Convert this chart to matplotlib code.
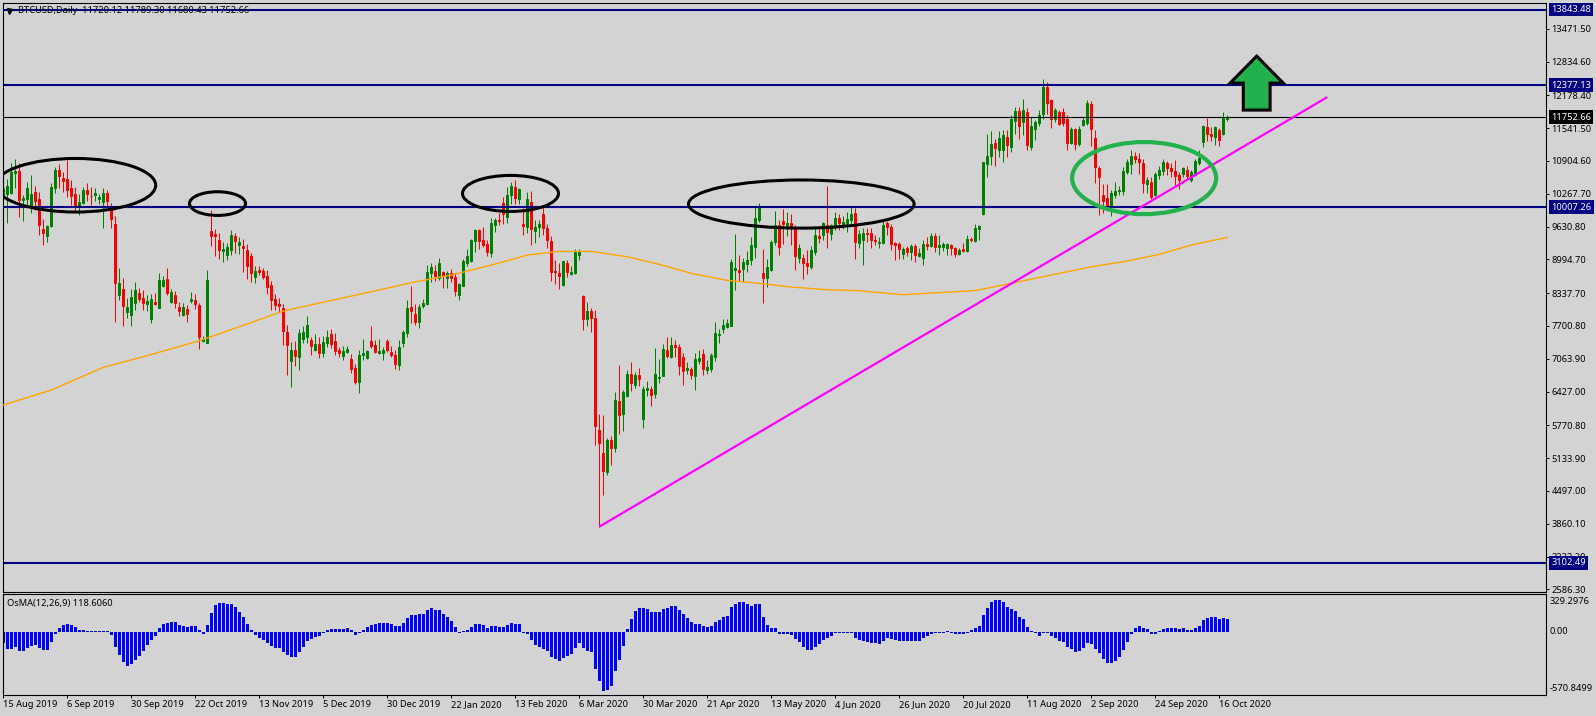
import matplotlib
matplotlib.use("Agg")
import matplotlib.pyplot as plt
from matplotlib.patches import Ellipse, Polygon

plt.rcParams['font.family'] = ['Noto Sans', 'DejaVu Sans']

opens = [10240,10260,10290,10680,10710,10150,10160,10030,10300,10160,
9580,9450,9640,10380,10730,10570,10550,10380,10260,10030,
10090,10340,10230,10240,10160,10110,10280,10010,9680,8300,
8420,7970,7910,8150,8340,8240,8130,7830,8160,8050,
8480,8610,8160,8300,8070,7910,8030,8180,8200,8110,
7410,7370,9540,9480,9370,9150,9080,9170,9450,9270,
9250,9170,9060,8650,8790,8770,8670,8500,8220,8130,
8050,7580,7020,7230,7100,7450,7490,7430,7230,7350,
7170,7360,7540,7410,7230,7120,7190,7060,6880,6610,
7140,7080,7410,7330,7170,7170,7410,7190,7140,6940,
7370,7560,8070,7930,7780,8090,8130,8730,8770,8630,
8750,8630,8730,8650,8300,8480,8920,8960,9350,9560,
9370,9290,9120,9660,9760,10090,9820,10240,10400,10170,
9680,9620,10110,9540,9620,9870,9600,9350,8770,8730,
8500,8920,8710,8730,9080,8280,7840,7990,7850,5680,
5230,4860,5490,5330,6240,5990,6340,6770,6550,6750,
5890,6460,6480,6380,6690,6730,7230,7100,7330,7290,
7100,6850,6860,6730,7020,7160,6850,6860,7100,7530,
7640,7680,7700,8790,8790,8810,8900,8980,9230,9760,
8730,8630,8790,9330,9660,9740,9660,9700,9620,9020,
9020,8920,8850,9140,9450,9470,9660,9490,9620,9800,
9680,9700,9760,9890,9310,9370,9510,9510,9370,9320,
9310,9700,9620,9310,9290,9100,9210,9140,9250,9060,
9020,9290,9250,9450,9230,9230,9210,9270,9210,9100,
9200,9160,9390,9350,9580,9870,10850,11000,11250,11120,
11120,11370,11170,11680,11870,11660,11850,11180,11520,11640,
11820,12340,12090,11720,11850,11850,11720,11250,11520,11230,
11600,11640,12010,11350,10770,10240,10180,10030,10240,10320,
10320,10690,10850,11000,10940,10860,10460,10500,10240,10630,
10710,10860,10770,10710,10630,10650,10730,10530,10630,10860,
11270,11560,11430,11370,11500,11430,11720.12]

highs = [10440,10550,10860,10950,10860,10240,10490,10630,10420,10310,
9770,9660,10470,10780,10840,10690,10930,10530,10390,10270,
10390,10480,10400,10370,10270,10370,10340,10080,9830,8820,
8640,8240,8410,8550,8430,8400,8300,8330,8350,8720,
8670,8820,8410,8380,8170,8140,8110,8360,8330,8140,
7500,8790,9950,9590,9500,9340,9320,9560,9500,9430,
9380,9300,9120,8860,8860,8820,8790,8570,8330,8240,
8130,7720,7390,7410,7650,7690,7890,7480,7540,7490,
7500,7620,7650,7560,7300,7310,7310,7150,6960,7230,
7450,7230,7700,7430,7450,7300,7450,7310,7230,7430,
7620,8200,8480,8130,8130,8220,8880,8920,8880,9020,
8770,8770,8810,8720,8540,9010,9190,9390,9580,9580,
9620,9370,9800,9800,9890,10200,10400,10500,10530,10380,
9990,10300,10320,9760,9760,10010,9680,9450,8980,8920,
8960,8980,8860,9190,9190,8300,8170,8050,8010,5990,
5970,5520,5560,6420,6940,6460,6850,7010,6810,6880,
6530,6630,6530,7270,7060,7350,7490,7490,7430,7350,
7170,7010,6910,7170,7230,7250,7040,7180,7780,7640,
7840,7840,9000,9490,9080,9020,9160,9430,10010,10090,
9190,9000,9370,9930,9760,9970,9910,9870,9660,9290,
9100,9170,9250,9640,9640,9720,10420,9690,9910,9870,
9830,9910,10010,9990,9560,9600,9600,9600,9470,9430,
9740,9740,9690,9340,9340,9230,9250,9300,9300,9210,
9370,9430,9500,9500,9470,9340,9320,9300,9240,9210,
9320,9470,9430,9690,9660,10880,11430,11490,11340,11490,
11500,11500,11800,11960,11960,12110,11940,11760,11700,11890,
12490,12440,12100,11930,11890,11930,11800,11570,11550,11580,
11750,12090,12070,11500,10810,10460,10460,10340,10500,10420,
10790,10950,11120,11070,11050,10940,10590,10590,10700,10810,
10950,10900,10860,10920,10700,10790,10810,10730,10950,11120,
11600,11740,11570,11580,11540,11860,11789.30]

lows = [9450,9700,10260,10370,9820,9740,10050,9900,9950,9470,
9280,9340,9630,10290,10370,10310,10210,10050,9920,9850,
10070,10130,10050,10130,10070,9610,10020,9610,7780,8200,
7700,7850,7700,8010,8160,8010,7990,7760,8110,8040,
8450,8300,8140,8050,7890,7890,7780,8140,8030,7250,
7380,7360,9250,9050,9010,8950,8980,9080,9110,9100,
8750,8620,8560,8540,8690,8620,8320,8010,8010,7980,
7330,6750,6520,6920,6840,7360,7360,7140,7210,7070,
7100,7300,7270,7140,7100,7040,7170,6780,6570,6400,
7040,7060,7270,7170,7150,7040,7190,7100,6860,6850,
7300,7490,7750,7720,7670,8040,8110,8560,8580,8590,
8440,8440,8550,8280,8200,8480,8860,8940,9140,9190,
9230,9060,9040,9520,9660,9680,9700,10070,10070,10070,
9470,9500,9270,9310,9430,9470,9210,8570,8510,8420,
8480,8650,8690,8710,8980,7620,7690,7580,5390,3800,
4420,4810,5000,5250,5600,5660,6330,6440,6490,6530,
5720,6340,6150,6300,6600,6730,7070,7070,7100,6750,
6550,6770,6670,6460,6970,6750,6770,6810,7020,7370,
7570,7660,7700,8400,8570,8550,8750,8880,9020,9720,
8150,8460,8770,9270,9080,9300,9450,9270,8790,8920,
8610,8710,8810,9080,9310,9370,9210,9370,9560,9560,
9590,9520,9660,9000,9210,8880,9340,9210,9270,9210,
9290,9470,9170,8980,9010,9010,9050,8980,8950,9030,
8880,9170,9240,9140,9080,9160,9080,9080,9030,9080,
9130,9140,9340,9340,9370,9850,10590,10830,10810,10990,
10890,10990,11080,11430,11330,11410,11120,11120,11320,11580,
11720,11820,11540,11660,11600,11580,11120,11230,11120,11190,
11580,11600,11190,10470,9850,9890,9950,9830,10180,10240,
10240,10660,10660,10860,10660,10290,10280,10160,10220,10560,
10630,10630,10600,10440,10360,10600,10550,10500,10620,10830,
11180,11290,11290,11210,11190,11400,11680.43]

closes = [10370,10420,10700,10710,10150,10180,10370,10270,10130,9660,
9500,9640,10400,10730,10610,10510,10340,10220,10030,10110,
10340,10260,10220,10280,10200,10280,10130,9780,8530,8530,
8090,8070,8260,8400,8220,8150,8180,8220,8130,8590,
8590,8340,8360,8150,7990,8070,7930,8220,8130,7490,
7450,8590,9450,9450,9170,9190,9230,9470,9350,9330,
9220,8860,8730,8770,8750,8650,8460,8200,8110,8090,
7600,7330,7230,7120,7560,7580,7720,7310,7350,7170,
7390,7490,7350,7210,7170,7210,7250,6860,6610,7140,
7170,7210,7310,7190,7210,7230,7230,7140,6960,7290,
7580,8050,7990,7780,8070,8150,8750,8840,8670,8920,
8670,8730,8630,8380,8510,8960,9060,9370,9560,9350,
9270,9140,9700,9760,9740,9880,10240,10420,10180,10360,
9640,10170,9580,9620,9680,9600,9370,8750,8750,8670,
8960,8750,8750,9140,9140,7840,7990,7850,5760,5430,
4880,5490,5330,6260,5970,6420,6770,6590,6750,6670,
6480,6500,6360,6770,6710,7250,7120,7330,7290,6920,
6830,6880,6750,7060,7080,6860,6900,7140,7560,7540,
7720,7760,8940,8830,8750,8940,8980,9270,9800,10030,
8630,8850,9330,9660,9230,9680,9700,9620,9060,9210,
8920,8860,9170,9470,9410,9700,9520,9660,9800,9700,
9720,9780,9870,9330,9490,9510,9490,9370,9360,9330,
9660,9620,9290,9270,9190,9190,9140,9250,9080,9120,
9290,9250,9450,9230,9270,9290,9290,9210,9100,9180,
9160,9390,9370,9600,9640,10880,11000,11230,11160,11350,
11410,11210,11720,11870,11580,11890,11210,11580,11660,11800,
12340,12030,11720,11890,11620,11640,11250,11520,11230,11520,
11700,12030,11520,10790,10590,10130,10030,10280,10320,10340,
10710,10880,11000,10940,10880,10480,10530,10200,10650,10730,
10880,10770,10710,10610,10530,10770,10610,10690,10900,10960,
11580,11430,11390,11560,11310,11760,11752.66]

osma = [-100,-151,-151,-139,-172,-172,-145,-127,-121,-145,
-163,-163,-91,-18,36,63,72,66,45,18,
18,9,6,6,6,6,6,-27,-136,-208,
-272,-308,-290,-254,-217,-172,-118,-72,-36,36,
72,82,91,91,63,54,45,54,54,18,
-18,63,172,245,263,263,254,254,226,181,
136,72,18,-27,-54,-72,-100,-127,-145,-145,
-181,-208,-226,-226,-181,-136,-82,-63,-45,-36,
-9,18,27,27,27,27,36,18,-27,-9,
18,45,63,72,82,82,82,72,54,54,
82,127,154,154,163,163,199,217,199,199,
163,136,100,45,-9,9,18,45,72,72,
63,36,54,54,45,45,63,82,72,72,
-9,-18,-72,-121,-136,-154,-172,-226,-245,-263,
-236,-217,-199,-145,-100,-145,-172,-181,-335,-444,
-535,-525,-489,-353,-254,-127,27,118,190,217,
217,208,181,181,181,208,217,236,236,199,
163,127,91,72,72,54,45,54,91,109,
136,145,226,254,272,272,254,236,254,254,
136,63,36,36,-18,-18,-18,-27,-63,-91,
-136,-163,-163,-136,-109,-72,-54,-36,-6,-6,
-6,-9,-9,-54,-72,-82,-91,-100,-100,-109,
-82,-54,-63,-72,-82,-82,-82,-82,-82,-82,
-54,-36,-18,-9,-9,-9,6,-6,-18,-18,
-18,-9,18,36,54,154,217,272,290,290,
272,226,208,190,136,118,45,6,-9,-36,
-9,-6,-36,-54,-82,-91,-136,-154,-181,-172,
-145,-100,-109,-154,-190,-245,-281,-281,-263,-226,
-163,-91,-18,36,54,36,27,-18,-18,9,
27,36,36,36,27,36,18,18,36,54,
109,127,136,136,118,127,118.6]

ma_bars = [0,12,25,35,49,59,70,79,89,102,112,122,131,139,147,156,164,172,181,189,197,206,214,225,243,253,264,272,281,289,297,306]
ma_values = [6165,6456,6897,7103,7413,7685,7990,8145,8314,8540,8689,8883,9077,9149,9149,9044,8897,8722,8586,8528,8456,8404,8384,8308,8388,8545,8722,8850,8961,9091,9271,9421]

trend_bars = [149, 331]
trend_prices = [3802, 12145]

navy_levels = [13843.48, 12377.13, 10007.26, 3102.49]
navy_labels = ["13843.48", "12377.13", "10007.26", "3102.49"]
last_price = 11752.66

price_ticks = [13471.50,12834.60,12178.40,11541.50,10904.60,10267.70,9630.80,8994.70,8337.70,7700.80,7063.90,6427.00,5770.80,5133.90,4497.00,3860.10,3223.20,2586.30]

date_labels = ["15 Aug 2019","6 Sep 2019","30 Sep 2019","22 Oct 2019","13 Nov 2019","5 Dec 2019","30 Dec 2019","22 Jan 2020","13 Feb 2020","6 Mar 2020","30 Mar 2020","21 Apr 2020","13 May 2020","4 Jun 2020","26 Jun 2020","20 Jul 2020","11 Aug 2020","2 Sep 2020","24 Sep 2020","16 Oct 2020"]

# ellipse annotations: centre bar, width in bars, centre price, height in price
ell_black = [(18.1,40.0,10433,1040),(53.55,14.0,10077,460),(126.8,24.0,10274,700),(199.5,56.4,10068,935)]
ell_green = (285.2,36.0,10572,1400)

arrow_bars = [313.35,320,316.7,316.7,310,310,306.7]
arrow_prices = [12941,12417,12417,11893,11893,12417,12417]

W, H = 1596, 716
BG = '#D3D3D3'
FS = 6.7
fig = plt.figure(figsize=(W/100, H/100), dpi=100, facecolor=BG)
L, R = 2.7, 1545.7
ax = fig.add_axes([L/W, 1-592/H, (R-L)/W, (592-2.5)/H], facecolor=BG)
sub = fig.add_axes([L/W, 1-695/H, (R-L)/W, (695-594)/H], facecolor=BG)
for a in (ax, sub):
    for s in a.spines.values():
        s.set_linewidth(0.8)
        s.set_color('black')
    a.set_xlim(-0.15, 385.6)

ax.set_ylim(2534, 13982)
sub.set_ylim(-570.85, 344)

xs = list(range(len(closes)))
wicks = ax.vlines(xs, lows, highs, colors=['#008000' if c >= o else '#FF0000' for o, c in zip(opens, closes)], linewidth=0.72, zorder=2)
wicks.set_snap(True)
for x, o, c in zip(xs, opens, closes):
    col = '#008000' if c >= o else '#FF0000'
    ax.bar(x, abs(c-o), bottom=min(o, c), width=0.5, color=col, edgecolor=col, linewidth=0.72, zorder=2.1, snap=True)

ax.plot(ma_bars, ma_values, color='#FFA500', linewidth=1.0, zorder=3)
for lv in navy_levels:
    ax.axhline(lv, color='#000080', linewidth=1.5, zorder=4)
ax.axhline(last_price, color='black', linewidth=0.8, zorder=4)
ax.plot(trend_bars, trend_prices, color='#FF00FF', linewidth=1.6, zorder=5, solid_capstyle='butt')

for cx, w, cy, h in ell_black:
    ax.add_patch(Ellipse((cx, cy), w, h, fill=False, edgecolor='black', linewidth=2.2, zorder=6))
cx, w, cy, h = ell_green
ax.add_patch(Ellipse((cx, cy), w, h, fill=False, edgecolor='#22B14C', linewidth=3.0, zorder=6))

ax.add_patch(Polygon(list(zip(arrow_bars, arrow_prices)), closed=True, facecolor='#22B14C', edgecolor='black', linewidth=2.2, zorder=7, joinstyle='miter'))

ax.set_xticks([])
ax.yaxis.tick_right()
ax.set_yticks(price_ticks)
ax.set_yticklabels([f"{t:.2f}" for t in price_ticks], fontsize=FS, color='black')
ax.tick_params(axis='y', length=2.2, width=0.7, pad=2)

ytr = ax.get_yaxis_transform()
for lv, lb in zip(navy_levels, navy_labels):
    ax.annotate(lb, xy=(1, lv), xycoords=ytr, xytext=(4.0, 0), textcoords='offset points', fontsize=FS, color='white', va='center', ha='left', annotation_clip=False, zorder=10,
                bbox=dict(boxstyle='square,pad=0.25', facecolor='#000080', edgecolor='none'))
ax.annotate(f"{last_price:.2f}", xy=(1, last_price), xycoords=ytr, xytext=(4.0, 0), textcoords='offset points', fontsize=FS, color='white', va='center', ha='left', annotation_clip=False, zorder=10,
            bbox=dict(boxstyle='square,pad=0.25', facecolor='black', edgecolor='none'))

ax.text((18-L)/(R-L), 1-8.3/589.5, "BTCUSD,Daily  11720.12 11789.30 11680.43 11752.66", transform=ax.transAxes, fontsize=FS, color='black', va='center', ha='left', zorder=8)
ax.plot([6.5/(R-L)], [1-8.3/589.5], marker='v', markersize=3.6, color='black', transform=ax.transAxes, clip_on=False, zorder=8)

sub.bar(xs, osma, width=0.75, color='#0000FF', linewidth=0, zorder=2, snap=True)
sub.set_yticks([])
sub.text(4.6/(R-L), 1-9.7/101, "OsMA(12,26,9) 118.6060", transform=sub.transAxes, fontsize=FS, color='black', va='center', ha='left')
sub.annotate("329.2976", xy=(1, 1-7.7/101), xycoords='axes fraction', xytext=(2.5, 0), textcoords='offset points', fontsize=FS, va='center', ha='left', annotation_clip=False)
sub.annotate("0.00", xy=(1, 0.0), xycoords=sub.get_yaxis_transform(), xytext=(2.5, 0), textcoords='offset points', fontsize=FS, va='center', ha='left', annotation_clip=False)
sub.annotate("-570.8499", xy=(1, 6.3/101), xycoords='axes fraction', xytext=(2.5, 0), textcoords='offset points', fontsize=FS, va='center', ha='left', annotation_clip=False)

sub.set_xticks(list(range(0, 16*len(date_labels), 16)))
sub.set_xticklabels(date_labels, fontsize=FS, color='black', ha='left')
sub.tick_params(axis='x', length=2.2, width=0.7, pad=1.5)

fig.savefig("out.png", dpi=100, facecolor=BG)
